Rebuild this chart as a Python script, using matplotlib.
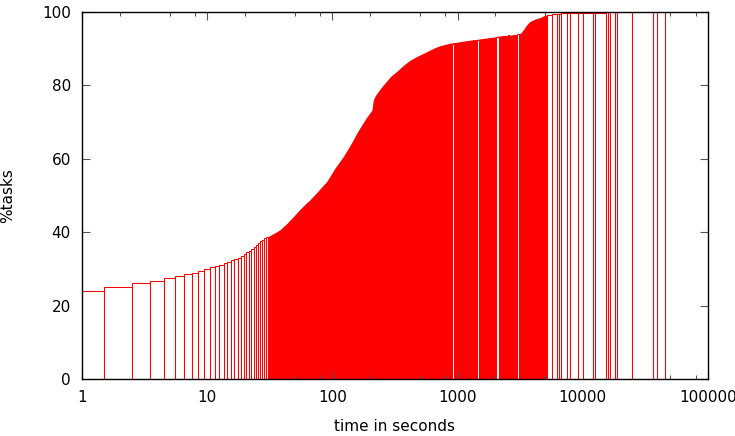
import numpy as np
import matplotlib.pyplot as plt
from matplotlib.ticker import FixedLocator, NullFormatter

# task durations 1..30 s, one box per second
int_t = list(range(1, 31))
int_pct = [24.0, 25.1, 26.1, 26.8, 27.6, 28.2, 28.7, 29.0, 29.5, 30.1,
           30.4, 30.8, 31.1, 31.5, 31.9, 32.3, 32.7, 33.1, 33.5, 34.0,
           34.5, 35.0, 35.5, 36.0, 36.5, 37.0, 37.5, 38.0, 38.4, 38.8]

# dense part, boxes too thin to tell apart -> read as a curve
dense_t = [30.5, 35, 38, 43, 48.6, 55, 60, 66, 75, 82, 90, 98, 105, 113, 122,
           132, 143, 156, 170, 185, 200, 207, 212, 220, 240, 265, 295, 326,
           370, 418, 480, 569, 650, 720, 800, 868, 1000, 1177, 1400, 1600,
           1900, 2180, 2600, 3050, 3200, 3340, 3550, 3770, 4100, 4570, 4900, 5180]
dense_pct = [38.8, 39.9, 40.6, 42.3, 44.2, 46.2, 47.5, 48.8, 50.8, 52.3, 53.8,
             55.8, 57.5, 59.0, 60.6, 62.5, 64.5, 66.9, 69.0, 71.0, 72.6, 73.3,
             76.0, 77.2, 79.0, 80.8, 82.6, 83.8, 85.5, 86.9, 88.0, 89.2, 90.2,
             90.8, 91.2, 91.5, 91.8, 92.2, 92.5, 92.8, 93.1, 93.5, 93.7, 93.9,
             94.3, 95.1, 96.4, 97.4, 98.0, 98.5, 99.0, 99.2]

# wider boxes inside the dense part (white inside)
gap_lo = [906, 1120, 1200, 1320, 1420, 1570, 1790, 2030, 2290, 2510, 2770, 2970]
gap_hi = [930, 1150, 1230, 1350, 1480, 1600, 1830, 2130, 2340, 2560, 2820, 3100]
gap_pct = [91.4, 91.9, 92.1, 92.3, 92.5, 92.7, 93.0, 93.3, 93.5, 93.7, 93.8, 93.9]

# long tasks, box edges in seconds
sparse_edges = [5180, 5650, 6220, 6460, 6700, 7440, 7900, 9100, 9950, 12000,
                12500, 15200, 16000, 16500, 18200, 18800, 24600, 36600, 38800, 45000]
sparse_pct = [99.3, 99.4, 99.5, 99.5, 99.6, 99.6, 99.7, 99.7, 99.8, 99.8,
              99.8, 99.9, 99.9, 99.9, 99.9, 99.9, 100, 100, 100]

red = '#ff0000'
plt.rcParams['font.family'] = 'DejaVu Sans'
plt.rcParams['font.size'] = 11

fig = plt.figure(figsize=(7.35, 4.36), dpi=100)
ax = fig.add_axes([82/735, 1 - 379/436, 626/735, 367/436])
ax.set_xscale('log')

ax.fill_between(dense_t, 0, dense_pct, color=red, linewidth=0, zorder=1)

lo = np.array(int_t) - 0.5
ax.bar(lo, int_pct, width=np.ones(len(int_t)), align='edge',
       facecolor='white', edgecolor=red, linewidth=0.75, zorder=2)

glo = np.array(gap_lo)
ax.bar(glo, gap_pct, width=np.array(gap_hi) - glo, align='edge',
       facecolor='white', edgecolor=red, linewidth=0.75, zorder=2)

se = np.array(sparse_edges, dtype=float)
ax.bar(se[:-1], sparse_pct, width=np.diff(se), align='edge',
       facecolor='white', edgecolor=red, linewidth=0.75, zorder=2)

ax.set_xlim(1, 100000)
ax.set_ylim(0, 100)
ax.xaxis.set_major_locator(FixedLocator([1, 10, 100, 1000, 10000, 100000]))
ax.set_xticklabels(['1', '10', '100', '1000', '10000', '100000'])
minor = [m * 10**d for d in range(5) for m in (2, 5, 8)]
ax.xaxis.set_minor_locator(FixedLocator(minor))
ax.xaxis.set_minor_formatter(NullFormatter())
ax.set_yticks([0, 20, 40, 60, 80, 100])

ax.tick_params(which='both', direction='in', top=True, right=True,
               color='#555555', width=0.8)
ax.tick_params(which='major', length=6, pad=8)
ax.tick_params(which='minor', length=3)
for s in ax.spines.values():
    s.set_linewidth(1.0)
    s.set_zorder(5)

ax.set_xlabel('time in seconds', labelpad=10)
ax.set_ylabel('%tasks', labelpad=19)

fig.savefig('out.png', dpi=100)
